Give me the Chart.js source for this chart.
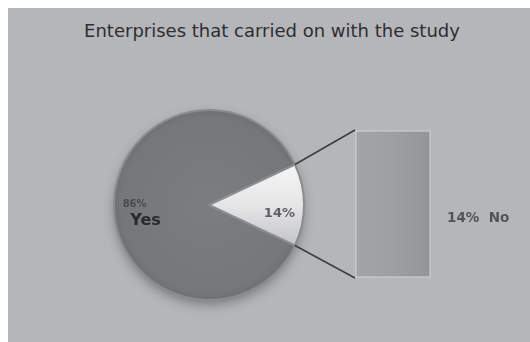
<!DOCTYPE html>
<html>
<head>
<meta charset="utf-8">
<script src="https://cdn.jsdelivr.net/npm/chart.js@4.4.0/dist/chart.umd.min.js"></script>
<style>
  html, body { margin: 0; padding: 0; background: #fff; }
  #wrap { position: relative; width: 530px; height: 342px; overflow: hidden; background: #fff; }
  #panel { position: absolute; left: 8px; top: 8px; width: 522px; height: 334px; background: #b5b6ba; }
  #title { position: absolute; left: 11px; width: 522px; top: 20px; text-align: center;
           font: 18px "DejaVu Sans", Verdana, sans-serif; color: #2e2e31; }
  #pieBox { position: absolute; left: 89px; top: 85px; width: 240px; height: 240px; }
  #barBox { position: absolute; left: 280px; top: 100px; width: 250px; height: 200px; }
</style>
</head>
<body>
<div id="wrap">
  <div id="panel"></div>
  <div id="title">Enterprises that carried on with the study</div>
  <div id="pieBox"><canvas id="pie" width="240" height="240"></canvas></div>
  <div id="barBox"><canvas id="bar" width="250" height="200"></canvas></div>
</div>
<script>
// Answers (percent of enterprises)
const categories = ['Yes', 'No'];
const shares = [86, 14];
// The "No" share broken out into its own column
const detailCategories = ['No'];
const detailShares = [14];

const PIE_OFFSET = { x: 89, y: 85 };
const BAR_OFFSET = { x: 280, y: 100 };
const FONT = '"DejaVu Sans", Verdana, sans-serif';

// soft drop shadow under the pie
const pieShadow = {
  id: 'pieShadow',
  beforeDatasetsDraw(chart) {
    const arc = chart.getDatasetMeta(0).data[0];
    if (!arc) return;
    const ctx = chart.ctx;
    ctx.save();
    ctx.shadowColor = 'rgba(40,40,45,0.45)';
    ctx.shadowBlur = 12;
    ctx.shadowOffsetY = 5;
    ctx.beginPath();
    ctx.arc(arc.x, arc.y, arc.outerRadius - 1, 0, Math.PI * 2);
    ctx.fillStyle = '#77787c';
    ctx.fill();
    ctx.restore();
  }
};

// slice labels: percentage, plus the category name for the large slice
const pieLabels = {
  id: 'pieLabels',
  afterDatasetsDraw(chart) {
    const ctx = chart.ctx;
    const meta = chart.getDatasetMeta(0);
    meta.data.forEach((arc, i) => {
      const mid = (arc.startAngle + arc.endAngle) / 2;
      const r = arc.outerRadius * 0.72;
      const x = arc.x + Math.cos(mid) * r;
      const y = arc.y + Math.sin(mid) * r;
      ctx.save();
      ctx.textAlign = 'center';
      ctx.textBaseline = 'middle';
      if (i === 0) {
        ctx.fillStyle = '#4a4a4d';
        ctx.font = 'bold 10px ' + FONT;
        ctx.fillText(shares[i] + '%', x - 6, y - 1);
        ctx.fillStyle = '#2a2a2c';
        ctx.font = 'bold 16px ' + FONT;
        ctx.fillText(categories[i], x + 5, y + 16);
      } else {
        ctx.fillStyle = '#606063';
        ctx.font = 'bold 13px ' + FONT;
        ctx.fillText(shares[i] + '%', x + 2, y + 9);
      }
      ctx.restore();
    });
  }
};

const pieChart = new Chart(document.getElementById('pie'), {
  type: 'pie',
  data: {
    labels: categories,
    datasets: [{
      data: shares,
      backgroundColor(ctx) {
        const c = ctx.chart.ctx;
        const area = ctx.chart.chartArea;
        if (!area) return '#77787c';
        if (ctx.dataIndex === 0) {
          const g = c.createRadialGradient(
            (area.left + area.right) / 2, (area.top + area.bottom) / 2, 10,
            (area.left + area.right) / 2, (area.top + area.bottom) / 2, area.width / 2);
          g.addColorStop(0, '#7b7c80');
          g.addColorStop(0.9, '#76777b');
          g.addColorStop(1, '#6e6f73');
          return g;
        }
        const g = c.createLinearGradient(0, area.top + area.height * 0.3, 0, area.top + area.height * 0.7);
        g.addColorStop(0, '#f4f4f4');
        g.addColorStop(0.5, '#e6e6e7');
        g.addColorStop(1, '#c4c5c8');
        return g;
      },
      borderColor: '#8b8c90',
      borderWidth: 2
    }]
  },
  options: {
    responsive: false,
    animation: false,
    rotation: 90 + 360 * shares[1] / 200,
    layout: { padding: 24 },
    plugins: { legend: { display: false }, tooltip: { enabled: false } }
  },
  plugins: [pieShadow, pieLabels]
});

// connector lines from the broken-out slice to the column, plus the column label
const connectors = {
  id: 'connectors',
  beforeDatasetsDraw(chart) {
    const slice = pieChart.getDatasetMeta(0).data[1];
    const bar = chart.getDatasetMeta(0).data[0];
    if (!slice || !bar) return;
    const dx = PIE_OFFSET.x - BAR_OFFSET.x;
    const dy = PIE_OFFSET.y - BAR_OFFSET.y;
    const r = slice.outerRadius;
    const p1 = { x: slice.x + Math.cos(slice.startAngle) * r + dx, y: slice.y + Math.sin(slice.startAngle) * r + dy };
    const p2 = { x: slice.x + Math.cos(slice.endAngle) * r + dx, y: slice.y + Math.sin(slice.endAngle) * r + dy };
    const left = bar.x - bar.width / 2;
    const ctx = chart.ctx;
    ctx.save();
    ctx.strokeStyle = '#3e3e42';
    ctx.lineWidth = 1.6;
    ctx.beginPath();
    ctx.moveTo(p1.x, p1.y);
    ctx.lineTo(left, bar.y);
    ctx.moveTo(p2.x, p2.y);
    ctx.lineTo(left, bar.base);
    ctx.stroke();
    ctx.restore();
  },
  afterDatasetsDraw(chart) {
    const bar = chart.getDatasetMeta(0).data[0];
    if (!bar) return;
    const ctx = chart.ctx;
    ctx.save();
    ctx.fillStyle = '#545457';
    ctx.font = 'bold 13.5px ' + FONT;
    ctx.textAlign = 'left';
    ctx.textBaseline = 'middle';
    ctx.fillText(detailShares[0] + '%  ' + detailCategories[0], bar.x + bar.width / 2 + 16, (bar.y + bar.base) / 2 + 14);
    ctx.restore();
  }
};

new Chart(document.getElementById('bar'), {
  type: 'bar',
  data: {
    labels: detailCategories,
    datasets: [{
      data: detailShares,
      backgroundColor(ctx) {
        const area = ctx.chart.chartArea;
        if (!area) return '#9d9ea2';
        const g = ctx.chart.ctx.createLinearGradient(area.left, 0, area.right, 0);
        g.addColorStop(0, '#a3a4a8');
        g.addColorStop(0.5, '#9e9fa3');
        g.addColorStop(1, '#939498');
        return g;
      },
      borderColor: '#c3c4c7',
      borderWidth: 2,
      borderRadius: 3,
      borderSkipped: false,
      barPercentage: 1,
      categoryPercentage: 1
    }]
  },
  options: {
    responsive: false,
    animation: false,
    layout: { padding: { left: 75, right: 99, top: 30, bottom: 22 } },
    scales: {
      x: { display: false },
      y: { display: false, min: 0, max: detailShares[0] }
    },
    plugins: { legend: { display: false }, tooltip: { enabled: false } }
  },
  plugins: [connectors]
});
</script>
</body>
</html>
